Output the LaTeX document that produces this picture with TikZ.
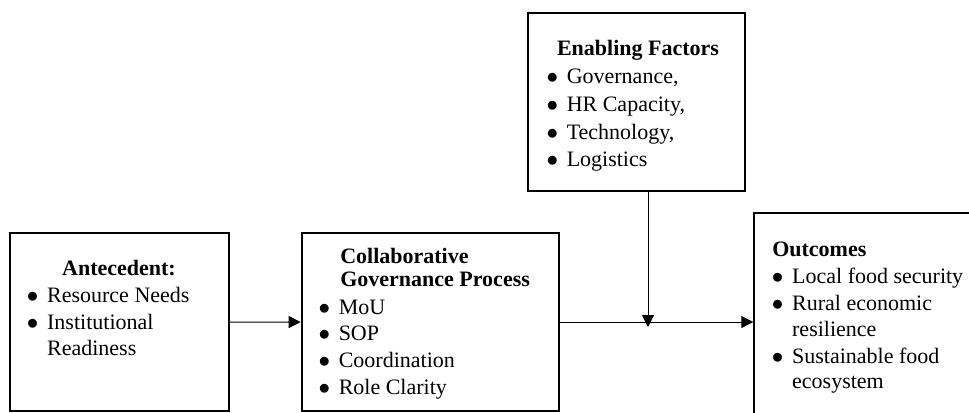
\documentclass[tikz,border=0pt]{standalone}
\usepackage{fontspec}
\setmainfont{Liberation Serif}
\usetikzlibrary{arrows.meta}

\newcommand{\blt}{$\bullet$}

\begin{document}
\begin{tikzpicture}[x=0.75pt,y=0.75pt,yscale=-1,xscale=1,
    frame/.style={draw=black,line width=1.5pt,inner sep=0pt},
    txt/.style={inner sep=0pt,font=\fontsize{16.5}{19}\selectfont},
    link/.style={line width=0.75pt,-{Triangle[length=9pt,width=9pt]}}]
%set diagram left start at 0, and has height of 412
    \useasboundingbox (0,0) rectangle (969,412);
    \clip (0,0) rectangle (969,412);

    %Shape: Rectangle
    \node [frame,minimum width=164.6pt,minimum height=133.3pt] (ante) at (119.3,322.2) {};
    %Shape: Rectangle
    \node [frame,minimum width=193.2pt,minimum height=133.5pt] (collab) at (430.5,322) {};
    %Shape: Rectangle
    \node [frame,minimum width=162.4pt,minimum height=133pt] (enab) at (636.75,102) {};
    %Shape: Rectangle
    \node [frame,minimum width=172.5pt,minimum height=161.3pt,anchor=north west] (outc) at (753.3,212.3) {};

    %Straight Lines
    \draw [link] (ante.east) -- (collab.west);
    %Straight Lines
    \draw [link] (collab.east) -- (collab.east -| outc.west);
    %Straight Lines
    \coordinate (meet) at (648,327);
    \draw [link] (enab.south -| meet) -- (meet);

    % Text Node
    \node [txt,anchor=base] (anteT) at (119,275.7) {\textbf{Antecedent:}};
    % Text Node
    \node [txt,anchor=base west] (anteL) at (26.7,302.3) {\begin{tabular}[t]{@{}l@{\hspace{6.5pt}}l@{}}
        \blt & Resource Needs\\[1.6pt]
        \blt & Institutional\\
             & Readiness
    \end{tabular}};
    % Text Node
    \node [txt,anchor=base west] (collabT) at (340,263.5) {\begin{tabular}[t]{@{}l@{}}
        \textbf{Collaborative}\\[-1.4pt]
        \textbf{Governance Process}
    \end{tabular}};
    % Text Node
    \node [txt,anchor=base west] (collabL) at (318.3,314) {\begin{tabular}[t]{@{}l@{\hspace{6.5pt}}l@{}}
        \blt & MoU\\[1pt]
        \blt & SOP\\[1pt]
        \blt & Coordination\\[1pt]
        \blt & Role Clarity
    \end{tabular}};
    % Text Node
    \node [txt,anchor=base] (enabT) at (638,55) {\textbf{Enabling Factors}};
    % Text Node
    \node [txt,anchor=base west] (enabL) at (546.3,83.3) {\begin{tabular}[t]{@{}l@{\hspace{6.5pt}}l@{}}
        \blt & Governance,\\[1.9pt]
        \blt & HR Capacity,\\[1.9pt]
        \blt & Technology,\\[1.9pt]
        \blt & Logistics
    \end{tabular}};
    % Text Node
    \node [txt,anchor=base west] (outcT) at (772,256.7) {\textbf{Outcomes}};
    % Text Node
    \node [txt,anchor=base west] (outcL) at (771.7,283.3) {\begin{tabular}[t]{@{}l@{\hspace{6.5pt}}l@{}}
        \blt & Local food security\\[1.6pt]
        \blt & Rural economic\\
             & resilience\\[1.6pt]
        \blt & Sustainable food\\
             & ecosystem
    \end{tabular}};

\end{tikzpicture}
\end{document}
